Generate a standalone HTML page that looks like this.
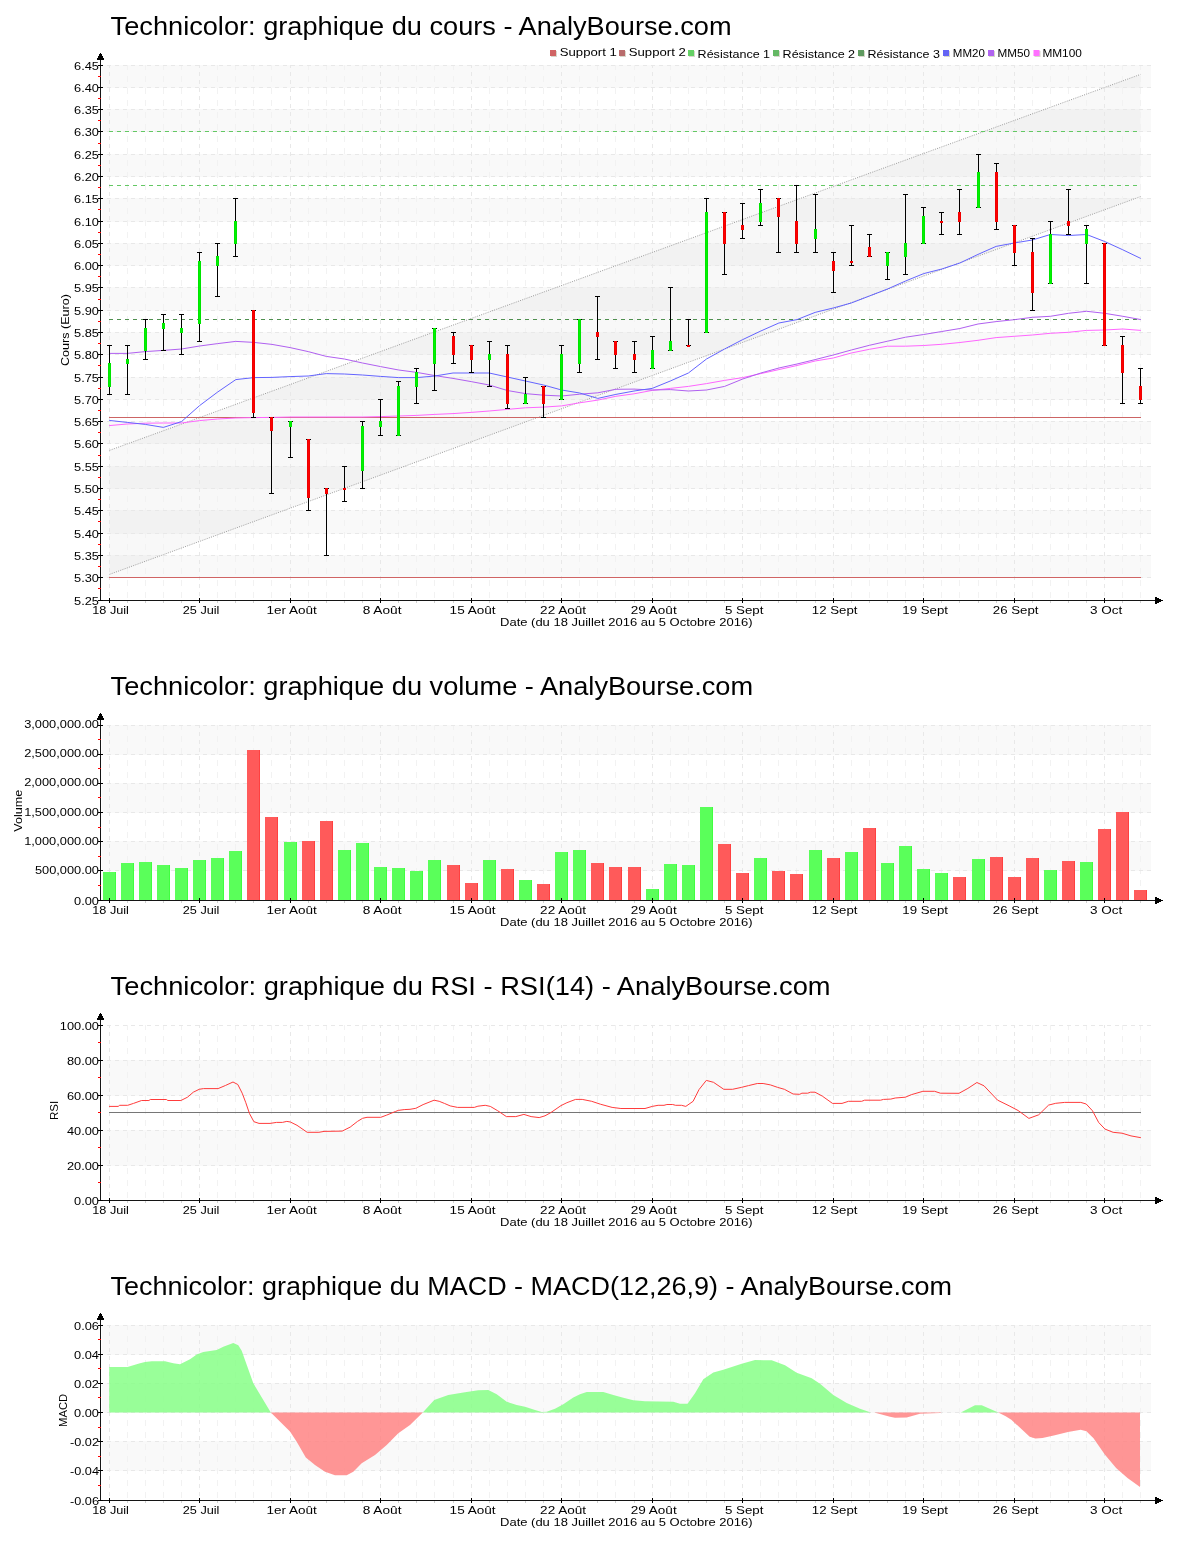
<!DOCTYPE html>
<html><head><meta charset="utf-8"><style>
html,body{margin:0;padding:0;background:#fff;width:1200px;height:1550px;overflow:hidden}
svg{display:block;will-change:transform}
</style></head><body>
<svg width="1200" height="1550" viewBox="0 0 1200 1550" font-family='"Liberation Sans", sans-serif' fill="#000">
<rect width="1200" height="1550" fill="#fff"/>
<text x="110.6" y="34.8" font-size="25.3" text-anchor="start" textLength="621" lengthAdjust="spacingAndGlyphs">Technicolor: graphique du cours - AnalyBourse.com</text>
<rect x="102" y="65" width="1049" height="23" fill="#f9f9f9"/>
<rect x="102" y="109" width="1049" height="23" fill="#f9f9f9"/>
<rect x="102" y="154" width="1049" height="23" fill="#f9f9f9"/>
<rect x="102" y="198" width="1049" height="24" fill="#f9f9f9"/>
<rect x="102" y="243" width="1049" height="23" fill="#f9f9f9"/>
<rect x="102" y="287" width="1049" height="24" fill="#f9f9f9"/>
<rect x="102" y="332" width="1049" height="23" fill="#f9f9f9"/>
<rect x="102" y="377" width="1049" height="23" fill="#f9f9f9"/>
<rect x="102" y="421" width="1049" height="23" fill="#f9f9f9"/>
<rect x="102" y="466" width="1049" height="23" fill="#f9f9f9"/>
<rect x="102" y="510" width="1049" height="24" fill="#f9f9f9"/>
<rect x="102" y="555" width="1049" height="23" fill="#f9f9f9"/>
<path d="M109.5 450.4L1140.5 74.4L1140.5 196.6L109.5 574.4Z" fill="#000" fill-opacity="0.028"/>
<path d="M127.5 65V600M145.5 65V600M163.5 65V600M181.5 65V600M217.5 65V600M235.5 65V600M253.5 65V600M271.5 65V600M308.5 65V600M326.5 65V600M344.5 65V600M362.5 65V600M398.5 65V600M416.5 65V600M434.5 65V600M453.5 65V600M489.5 65V600M507.5 65V600M525.5 65V600M543.5 65V600M579.5 65V600M597.5 65V600M615.5 65V600M634.5 65V600M670.5 65V600M688.5 65V600M706.5 65V600M724.5 65V600M760.5 65V600M778.5 65V600M796.5 65V600M815.5 65V600M851.5 65V600M869.5 65V600M887.5 65V600M905.5 65V600M941.5 65V600M959.5 65V600M978.5 65V600M996.5 65V600M1032.5 65V600M1050.5 65V600M1068.5 65V600M1086.5 65V600M1122.5 65V600M1140.5 65V600" stroke="#f2f2f2" stroke-width="1" stroke-dasharray="6 6" stroke-dashoffset="1" fill="none"/>
<path d="M109.5 65V600M199.5 65V600M290.5 65V600M380.5 65V600M471.5 65V600M561.5 65V600M652.5 65V600M742.5 65V600M833.5 65V600M923.5 65V600M1014.5 65V600M1104.5 65V600" stroke="#e8e8e8" stroke-width="1" stroke-dasharray="4 4" stroke-dashoffset="1" fill="none"/>
<path d="M101 65.5H1151M101 87.5H1151M101 109.5H1151M101 131.5H1151M101 154.5H1151M101 176.5H1151M101 198.5H1151M101 221.5H1151M101 243.5H1151M101 265.5H1151M101 287.5H1151M101 310.5H1151M101 332.5H1151M101 354.5H1151M101 377.5H1151M101 399.5H1151M101 421.5H1151M101 443.5H1151M101 466.5H1151M101 488.5H1151M101 510.5H1151M101 533.5H1151M101 555.5H1151M101 577.5H1151" stroke="#e8e8e8" stroke-width="1" stroke-dasharray="4 4" stroke-dashoffset="2" fill="none"/>
<path d="M109.5 450.4L1140.5 74.4M109.5 574.4L1140.5 196.6" stroke="#9c9c9c" stroke-width="1" stroke-dasharray="1 1.3" fill="none"/>
<path d="M109 417.5H1141" stroke="#cc6464" stroke-width="1" fill="none"/>
<path d="M109 577.5H1141" stroke="#d06464" stroke-width="1" fill="none"/>
<path d="M109 131.5H1141" stroke="#64c864" stroke-width="1" stroke-dasharray="4 4" fill="none"/>
<path d="M109 185.5H1141" stroke="#64c864" stroke-width="1" stroke-dasharray="4 4" fill="none"/>
<path d="M109 319.5H1141" stroke="#509050" stroke-width="1" stroke-dasharray="4 4" fill="none"/>
<path d="M109.1 425.6L127.2 424.0L145.3 423.2L163.4 423.0L181.5 423.0L199.6 420.6L217.7 419.0L235.8 418.0L253.9 417.6L272.0 417.4L290.1 417.0L308.2 417.0L326.3 417.0L344.4 417.0L362.5 417.0L380.6 416.6L398.7 416.0L416.8 415.4L434.9 414.4L453.0 413.6L471.1 412.4L489.2 411.0L507.3 409.4L525.4 407.8L543.5 407.1L561.6 405.9L579.7 402.8L597.8 400.1L615.9 396.3L634.1 393.8L652.2 390.4L670.3 388.4L688.4 386.4L706.5 383.6L724.6 380.4L742.7 377.6L760.8 373.6L778.9 369.6L797.0 365.5L815.1 361.0L833.2 358.0L851.3 353.0L869.4 349.3L887.5 346.2L905.6 346.2L923.7 345.5L941.8 344.3L959.9 342.5L978.0 340.3L996.1 337.6L1014.2 336.3L1032.3 335.0L1050.4 333.3L1068.5 332.3L1086.6 330.4L1104.7 330.0L1122.8 329.0L1140.9 330.4" stroke="#ff66ff" stroke-width="1" fill="none"/>
<path d="M109.1 353.4L127.2 353.4L145.3 351.6L163.4 350.4L181.5 349.0L199.6 346.0L217.7 343.6L235.8 341.4L253.9 342.4L272.0 344.4L290.1 347.6L308.2 351.6L326.3 356.4L344.4 359.0L362.5 363.0L380.6 366.6L398.7 370.0L416.8 372.4L434.9 375.6L453.0 378.4L471.1 381.6L489.2 385.0L507.3 390.5L525.4 393.6L543.5 395.2L561.6 396.0L579.7 394.2L597.8 392.8L615.9 389.3L634.1 389.1L652.2 390.0L670.3 389.6L688.4 391.0L706.5 390.0L724.6 386.4L742.7 379.0L760.8 373.0L778.9 368.0L797.0 364.0L815.1 359.6L833.2 355.0L851.3 350.0L869.4 345.3L887.5 341.2L905.6 337.2L923.7 334.5L941.8 331.5L959.9 328.5L978.0 324.0L996.1 321.6L1014.2 319.7L1032.3 317.3L1050.4 316.3L1068.5 313.3L1086.6 311.3L1104.7 313.3L1122.8 316.3L1140.9 319.6" stroke="#b060f0" stroke-width="1" fill="none"/>
<path d="M109.1 420.4L127.2 422.4L145.3 424.4L163.4 427.4L181.5 421.6L199.6 405.6L217.7 392.0L235.8 379.6L253.9 377.6L272.0 377.4L290.1 376.6L308.2 376.0L326.3 373.6L344.4 374.0L362.5 375.0L380.6 376.4L398.7 377.6L416.8 377.6L434.9 376.0L453.0 373.0L471.1 373.0L489.2 373.0L507.3 377.0L525.4 381.0L543.5 385.0L561.6 390.0L579.7 393.0L597.8 398.4L615.9 394.4L634.1 391.0L652.2 388.4L670.3 381.0L688.4 373.0L706.5 359.0L724.6 349.0L742.7 339.6L760.8 331.0L778.9 323.0L797.0 319.6L815.1 312.4L833.2 308.0L851.3 303.0L869.4 296.0L887.5 289.0L905.6 281.0L923.7 273.6L941.8 269.0L959.9 263.0L978.0 254.4L996.1 246.4L1014.2 243.0L1032.3 240.0L1050.4 234.5L1068.5 235.5L1086.6 234.5L1104.7 241.5L1122.8 249.8L1140.9 258.5" stroke="#6464ff" stroke-width="1" fill="none"/>
<path d="M109.5 345V395M127.5 345V395M145.5 319V360M163.5 314V351M181.5 314V355M199.5 252V342M217.5 243V297M235.5 198V257M253.5 310V418M271.5 417V494M290.5 421V458M308.5 439V511M326.5 488V556M344.5 466V502M362.5 421V489M380.5 399V436M398.5 381V436M416.5 368V404M434.5 328V391M453.5 332V364M471.5 345V373M489.5 341V387M507.5 345V409M525.5 377V404M543.5 386V418M561.5 345V400M579.5 319V373M597.5 296V360M615.5 341V369M634.5 341V373M652.5 336V369M670.5 287V351M688.5 319V346M706.5 198V333M724.5 212V275M742.5 203V239M760.5 189V226M778.5 198V253M796.5 185V253M815.5 194V253M833.5 252V293M851.5 225V266M869.5 234V257M887.5 252V280M905.5 194V275M923.5 207V244M941.5 212V235M959.5 189V235M978.5 154V208M996.5 163V230M1014.5 225V266M1032.5 238V311M1050.5 221V284M1068.5 189V235M1086.5 225V284M1104.5 243V346M1122.5 336V404M1140.5 368V404M107 345.5H112M107 394.5H112M125 345.5H130M125 394.5H130M143 319.5H148M143 359.5H148M161 314.5H166M161 350.5H166M179 314.5H184M179 354.5H184M197 252.5H202M197 341.5H202M215 243.5H220M215 296.5H220M233 198.5H238M233 256.5H238M251 310.5H256M251 417.5H256M269 417.5H274M269 493.5H274M288 421.5H293M288 457.5H293M306 439.5H311M306 510.5H311M324 488.5H329M324 555.5H329M342 466.5H347M342 501.5H347M360 421.5H365M360 488.5H365M378 399.5H383M378 435.5H383M396 381.5H401M396 435.5H401M414 368.5H419M414 403.5H419M432 328.5H437M432 390.5H437M451 332.5H456M451 363.5H456M469 345.5H474M469 372.5H474M487 341.5H492M487 386.5H492M505 345.5H510M505 408.5H510M523 377.5H528M523 403.5H528M541 386.5H546M541 417.5H546M559 345.5H564M559 399.5H564M577 319.5H582M577 372.5H582M595 296.5H600M595 359.5H600M613 341.5H618M613 368.5H618M632 341.5H637M632 372.5H637M650 336.5H655M650 368.5H655M668 287.5H673M668 350.5H673M686 319.5H691M686 345.5H691M704 198.5H709M704 332.5H709M722 212.5H727M722 274.5H727M740 203.5H745M740 238.5H745M758 189.5H763M758 225.5H763M776 198.5H781M776 252.5H781M794 185.5H799M794 252.5H799M813 194.5H818M813 252.5H818M831 252.5H836M831 292.5H836M849 225.5H854M849 265.5H854M867 234.5H872M867 256.5H872M885 252.5H890M885 279.5H890M903 194.5H908M903 274.5H908M921 207.5H926M921 243.5H926M939 212.5H944M939 234.5H944M957 189.5H962M957 234.5H962M976 154.5H981M976 207.5H981M994 163.5H999M994 229.5H999M1012 225.5H1017M1012 265.5H1017M1030 238.5H1035M1030 310.5H1035M1048 221.5H1053M1048 283.5H1053M1066 189.5H1071M1066 234.5H1071M1084 225.5H1089M1084 283.5H1089M1102 243.5H1107M1102 345.5H1107M1120 336.5H1125M1120 403.5H1125M1138 368.5H1143M1138 403.5H1143" stroke="#000" stroke-width="1" fill="none"/>
<path d="M108 363H111V387H108ZM126 359H129V364H126ZM144 328H147V351H144ZM162 323H165V329H162ZM180 328H183V333H180ZM198 261H201V324H198ZM216 256H219V266H216ZM234 221H237V244H234ZM289 421H292V427H289ZM361 426H364V471H361ZM379 421H382V427H379ZM397 386H400V436H397ZM415 372H418V387H415ZM433 328H436V364H433ZM488 354H491V360H488ZM524 394H527V404H524ZM560 354H563V400H560ZM578 319H581V364H578ZM651 350H654V369H651ZM669 341H672V351H669ZM705 212H708V333H705ZM759 203H762V222H759ZM814 229H817V239H814ZM886 252H889V266H886ZM904 243H907V257H904ZM922 216H925V244H922ZM977 172H980V208H977ZM1049 234H1052V284H1049ZM1085 229H1088V244H1085Z" fill="#00e400"/>
<path d="M252 310H255V413H252ZM270 417H273V431H270ZM307 439H310V498H307ZM325 488H328V494H325ZM343 488H346V490H343ZM452 336H455V355H452ZM470 345H473V360H470ZM506 354H509V404H506ZM542 386H545V404H542ZM596 332H599V337H596ZM614 341H617V355H614ZM633 354H636V360H633ZM687 345H690V347H687ZM723 212H726V244H723ZM741 225H744V230H741ZM777 198H780V217H777ZM795 221H798V244H795ZM832 261H835V271H832ZM850 261H853V263H850ZM868 247H871V257H868ZM940 221H943V223H940ZM958 212H961V222H958ZM995 172H998V222H995ZM1013 225H1016V253H1013ZM1031 252H1034V293H1031ZM1067 221H1070V226H1067ZM1103 243H1106V346H1103ZM1121 345H1124V373H1121ZM1139 386H1142V400H1139Z" fill="#ee0000"/>
<path d="M109.5 363V387M127.5 359V364M145.5 328V351M163.5 323V329M181.5 328V333M199.5 261V324M217.5 256V266M235.5 221V244M290.5 421V427M362.5 426V471M380.5 421V427M398.5 386V436M416.5 372V387M434.5 328V364M489.5 354V360M525.5 394V404M561.5 354V400M579.5 319V364M652.5 350V369M670.5 341V351M706.5 212V333M760.5 203V222M815.5 229V239M887.5 252V266M905.5 243V257M923.5 216V244M978.5 172V208M1050.5 234V284M1086.5 229V244" stroke="#00f400" fill="none"/>
<path d="M253.5 310V413M271.5 417V431M308.5 439V498M326.5 488V494M344.5 488V490M453.5 336V355M471.5 345V360M507.5 354V404M543.5 386V404M597.5 332V337M615.5 341V355M634.5 354V360M688.5 345V347M724.5 212V244M742.5 225V230M778.5 198V217M796.5 221V244M833.5 261V271M851.5 261V263M869.5 247V257M941.5 221V223M959.5 212V222M996.5 172V222M1014.5 225V253M1032.5 252V293M1068.5 221V226M1104.5 243V346M1122.5 345V373M1140.5 386V400" stroke="#ff0000" fill="none"/>
<path d="M100.5 60V601M100 600.5H1163" stroke="#141414" stroke-width="1" fill="none"/>
<path d="M100 53h1v1h1v2h1v2h1v2h-7v-2h1v-2h1v-2h1z" fill="#000" shape-rendering="crispEdges"/>
<path d="M1155 597h2v1h2v1h2v1h2v1h-2v1h-2v1h-2v1h-2z" fill="#000" shape-rendering="crispEdges"/>
<path d="M98 65.5H103M98 87.5H103M98 109.5H103M98 131.5H103M98 154.5H103M98 176.5H103M98 198.5H103M98 221.5H103M98 243.5H103M98 265.5H103M98 287.5H103M98 310.5H103M98 332.5H103M98 354.5H103M98 377.5H103M98 399.5H103M98 421.5H103M98 443.5H103M98 466.5H103M98 488.5H103M98 510.5H103M98 533.5H103M98 555.5H103M98 577.5H103M98 600.5H103" stroke="#000" stroke-width="1" fill="none"/>
<path d="M98 76.5H101M98 98.5H101M98 120.5H101M98 143.5H101M98 165.5H101M98 187.5H101M98 209.5H101M98 232.5H101M98 254.5H101M98 276.5H101M98 299.5H101M98 321.5H101M98 343.5H101M98 365.5H101M98 388.5H101M98 410.5H101M98 432.5H101M98 455.5H101M98 477.5H101M98 499.5H101M98 521.5H101M98 544.5H101M98 566.5H101M98 588.5H101" stroke="#f00" stroke-width="1" fill="none"/>
<path d="M109.5 598V603M199.5 598V603M290.5 598V603M380.5 598V603M471.5 598V603M561.5 598V603M652.5 598V603M742.5 598V603M833.5 598V603M923.5 598V603M1014.5 598V603M1104.5 598V603" stroke="#000" stroke-width="1" fill="none"/>
<path d="M127.5 601V603M145.5 601V603M163.5 601V603M181.5 601V603M217.5 601V603M235.5 601V603M253.5 601V603M271.5 601V603M308.5 601V603M326.5 601V603M344.5 601V603M362.5 601V603M398.5 601V603M416.5 601V603M434.5 601V603M453.5 601V603M489.5 601V603M507.5 601V603M525.5 601V603M543.5 601V603M579.5 601V603M597.5 601V603M615.5 601V603M634.5 601V603M670.5 601V603M688.5 601V603M706.5 601V603M724.5 601V603M760.5 601V603M778.5 601V603M796.5 601V603M815.5 601V603M851.5 601V603M869.5 601V603M887.5 601V603M905.5 601V603M941.5 601V603M959.5 601V603M978.5 601V603M996.5 601V603M1032.5 601V603M1050.5 601V603M1068.5 601V603M1086.5 601V603M1122.5 601V603M1140.5 601V603" stroke="#d0d0d0" stroke-width="1" fill="none"/>
<text x="99" y="70" font-size="11.2" text-anchor="end" textLength="24.9" lengthAdjust="spacingAndGlyphs">6.45</text>
<text x="99" y="92" font-size="11.2" text-anchor="end" textLength="24.9" lengthAdjust="spacingAndGlyphs">6.40</text>
<text x="99" y="114" font-size="11.2" text-anchor="end" textLength="24.9" lengthAdjust="spacingAndGlyphs">6.35</text>
<text x="99" y="136" font-size="11.2" text-anchor="end" textLength="24.9" lengthAdjust="spacingAndGlyphs">6.30</text>
<text x="99" y="159" font-size="11.2" text-anchor="end" textLength="24.9" lengthAdjust="spacingAndGlyphs">6.25</text>
<text x="99" y="181" font-size="11.2" text-anchor="end" textLength="24.9" lengthAdjust="spacingAndGlyphs">6.20</text>
<text x="99" y="203" font-size="11.2" text-anchor="end" textLength="24.9" lengthAdjust="spacingAndGlyphs">6.15</text>
<text x="99" y="226" font-size="11.2" text-anchor="end" textLength="24.9" lengthAdjust="spacingAndGlyphs">6.10</text>
<text x="99" y="248" font-size="11.2" text-anchor="end" textLength="24.9" lengthAdjust="spacingAndGlyphs">6.05</text>
<text x="99" y="270" font-size="11.2" text-anchor="end" textLength="24.9" lengthAdjust="spacingAndGlyphs">6.00</text>
<text x="99" y="292" font-size="11.2" text-anchor="end" textLength="24.9" lengthAdjust="spacingAndGlyphs">5.95</text>
<text x="99" y="315" font-size="11.2" text-anchor="end" textLength="24.9" lengthAdjust="spacingAndGlyphs">5.90</text>
<text x="99" y="337" font-size="11.2" text-anchor="end" textLength="24.9" lengthAdjust="spacingAndGlyphs">5.85</text>
<text x="99" y="359" font-size="11.2" text-anchor="end" textLength="24.9" lengthAdjust="spacingAndGlyphs">5.80</text>
<text x="99" y="382" font-size="11.2" text-anchor="end" textLength="24.9" lengthAdjust="spacingAndGlyphs">5.75</text>
<text x="99" y="404" font-size="11.2" text-anchor="end" textLength="24.9" lengthAdjust="spacingAndGlyphs">5.70</text>
<text x="99" y="426" font-size="11.2" text-anchor="end" textLength="24.9" lengthAdjust="spacingAndGlyphs">5.65</text>
<text x="99" y="448" font-size="11.2" text-anchor="end" textLength="24.9" lengthAdjust="spacingAndGlyphs">5.60</text>
<text x="99" y="471" font-size="11.2" text-anchor="end" textLength="24.9" lengthAdjust="spacingAndGlyphs">5.55</text>
<text x="99" y="493" font-size="11.2" text-anchor="end" textLength="24.9" lengthAdjust="spacingAndGlyphs">5.50</text>
<text x="99" y="515" font-size="11.2" text-anchor="end" textLength="24.9" lengthAdjust="spacingAndGlyphs">5.45</text>
<text x="99" y="538" font-size="11.2" text-anchor="end" textLength="24.9" lengthAdjust="spacingAndGlyphs">5.40</text>
<text x="99" y="560" font-size="11.2" text-anchor="end" textLength="24.9" lengthAdjust="spacingAndGlyphs">5.35</text>
<text x="99" y="582" font-size="11.2" text-anchor="end" textLength="24.9" lengthAdjust="spacingAndGlyphs">5.30</text>
<text x="99" y="605" font-size="11.2" text-anchor="end" textLength="24.9" lengthAdjust="spacingAndGlyphs">5.25</text>
<text x="110.6" y="614" font-size="11.2" text-anchor="middle" textLength="36.7" lengthAdjust="spacingAndGlyphs">18 Juil</text>
<text x="201.1" y="614" font-size="11.2" text-anchor="middle" textLength="36.7" lengthAdjust="spacingAndGlyphs">25 Juil</text>
<text x="291.6" y="614" font-size="11.2" text-anchor="middle" textLength="50.4" lengthAdjust="spacingAndGlyphs">1er Août</text>
<text x="382.1" y="614" font-size="11.2" text-anchor="middle" textLength="38.8" lengthAdjust="spacingAndGlyphs">8 Août</text>
<text x="472.6" y="614" font-size="11.2" text-anchor="middle" textLength="46.0" lengthAdjust="spacingAndGlyphs">15 Août</text>
<text x="563.1" y="614" font-size="11.2" text-anchor="middle" textLength="46.0" lengthAdjust="spacingAndGlyphs">22 Août</text>
<text x="653.7" y="614" font-size="11.2" text-anchor="middle" textLength="46.0" lengthAdjust="spacingAndGlyphs">29 Août</text>
<text x="744.2" y="614" font-size="11.2" text-anchor="middle" textLength="38.5" lengthAdjust="spacingAndGlyphs">5 Sept</text>
<text x="834.7" y="614" font-size="11.2" text-anchor="middle" textLength="45.7" lengthAdjust="spacingAndGlyphs">12 Sept</text>
<text x="925.2" y="614" font-size="11.2" text-anchor="middle" textLength="45.7" lengthAdjust="spacingAndGlyphs">19 Sept</text>
<text x="1015.7" y="614" font-size="11.2" text-anchor="middle" textLength="45.7" lengthAdjust="spacingAndGlyphs">26 Sept</text>
<text x="1106.2" y="614" font-size="11.2" text-anchor="middle" textLength="32.3" lengthAdjust="spacingAndGlyphs">3 Oct</text>
<text x="626.3" y="626" font-size="11.2" text-anchor="middle" textLength="252.5" lengthAdjust="spacingAndGlyphs">Date (du 18 Juillet 2016 au 5 Octobre 2016)</text>
<text x="0" y="0" font-size="11.2" text-anchor="middle" textLength="72" lengthAdjust="spacingAndGlyphs" transform="translate(69.4 330) rotate(-90)">Cours (Euro)</text>
<rect x="551" y="51" width="6" height="6" fill="#d8d8cc"/>
<rect x="550" y="50" width="6" height="6" fill="#d06464"/>
<text x="559.8" y="56" font-size="11" text-anchor="start" textLength="57" lengthAdjust="spacingAndGlyphs">Support 1</text>
<rect x="620" y="51" width="6" height="6" fill="#d8d8cc"/>
<rect x="619" y="50" width="6" height="6" fill="#b86c6c"/>
<text x="628.8" y="56" font-size="11" text-anchor="start" textLength="57" lengthAdjust="spacingAndGlyphs">Support 2</text>
<rect x="689" y="51" width="6" height="6" fill="#d8d8cc"/>
<rect x="688" y="50" width="6" height="6" fill="#64d064"/>
<text x="697.6" y="58" font-size="11" text-anchor="start" textLength="72.5" lengthAdjust="spacingAndGlyphs">Résistance 1</text>
<rect x="774" y="51" width="6" height="6" fill="#d8d8cc"/>
<rect x="773" y="50" width="6" height="6" fill="#64b864"/>
<text x="782.6" y="58" font-size="11" text-anchor="start" textLength="72.5" lengthAdjust="spacingAndGlyphs">Résistance 2</text>
<rect x="859" y="51" width="6" height="6" fill="#d8d8cc"/>
<rect x="858" y="50" width="6" height="6" fill="#5f9a5f"/>
<text x="867.6" y="58" font-size="11" text-anchor="start" textLength="72.3" lengthAdjust="spacingAndGlyphs">Résistance 3</text>
<rect x="944" y="51" width="6" height="6" fill="#d8d8cc"/>
<rect x="943" y="50" width="6" height="6" fill="#6464f5"/>
<text x="952.8" y="57" font-size="11" text-anchor="start" textLength="32" lengthAdjust="spacingAndGlyphs">MM20</text>
<rect x="989" y="51" width="6" height="6" fill="#d8d8cc"/>
<rect x="988" y="50" width="6" height="6" fill="#b064f0"/>
<text x="997.4" y="57" font-size="11" text-anchor="start" textLength="32.5" lengthAdjust="spacingAndGlyphs">MM50</text>
<rect x="1034.5" y="51" width="6" height="6" fill="#d8d8cc"/>
<rect x="1033.5" y="50" width="6" height="6" fill="#ff70ff"/>
<text x="1042.4" y="57" font-size="11" text-anchor="start" textLength="39.5" lengthAdjust="spacingAndGlyphs">MM100</text>
<text x="110.6" y="694.8" font-size="25.3" text-anchor="start" textLength="642.5" lengthAdjust="spacingAndGlyphs">Technicolor: graphique du volume - AnalyBourse.com</text>
<rect x="102" y="725" width="1049" height="30" fill="#f9f9f9"/>
<rect x="102" y="783" width="1049" height="30" fill="#f9f9f9"/>
<rect x="102" y="841" width="1049" height="30" fill="#f9f9f9"/>
<path d="M127.5 725V900M145.5 725V900M163.5 725V900M181.5 725V900M217.5 725V900M235.5 725V900M253.5 725V900M271.5 725V900M308.5 725V900M326.5 725V900M344.5 725V900M362.5 725V900M398.5 725V900M416.5 725V900M434.5 725V900M453.5 725V900M489.5 725V900M507.5 725V900M525.5 725V900M543.5 725V900M579.5 725V900M597.5 725V900M615.5 725V900M634.5 725V900M670.5 725V900M688.5 725V900M706.5 725V900M724.5 725V900M760.5 725V900M778.5 725V900M796.5 725V900M815.5 725V900M851.5 725V900M869.5 725V900M887.5 725V900M905.5 725V900M941.5 725V900M959.5 725V900M978.5 725V900M996.5 725V900M1032.5 725V900M1050.5 725V900M1068.5 725V900M1086.5 725V900M1122.5 725V900M1140.5 725V900" stroke="#f2f2f2" stroke-width="1" stroke-dasharray="6 6" stroke-dashoffset="1" fill="none"/>
<path d="M109.5 725V900M199.5 725V900M290.5 725V900M380.5 725V900M471.5 725V900M561.5 725V900M652.5 725V900M742.5 725V900M833.5 725V900M923.5 725V900M1014.5 725V900M1104.5 725V900" stroke="#e8e8e8" stroke-width="1" stroke-dasharray="4 4" stroke-dashoffset="1" fill="none"/>
<path d="M101 725.5H1151M101 754.5H1151M101 783.5H1151M101 812.5H1151M101 841.5H1151M101 870.5H1151" stroke="#e8e8e8" stroke-width="1" stroke-dasharray="4 4" stroke-dashoffset="2" fill="none"/>
<path d="M103 872H116V900H103ZM121 863H134V900H121ZM139 862H152V900H139ZM157 865H170V900H157ZM175 868H188V900H175ZM193 860H206V900H193ZM211 858H224V900H211ZM229 851H242V900H229ZM284 842H297V900H284ZM338 850H351V900H338ZM356 843H369V900H356ZM374 867H387V900H374ZM392 868H405V900H392ZM410 871H423V900H410ZM428 860H441V900H428ZM483 860H496V900H483ZM519 880H532V900H519ZM555 852H568V900H555ZM573 850H586V900H573ZM646 889H659V900H646ZM664 864H677V900H664ZM682 865H695V900H682ZM700 807H713V900H700ZM754 858H767V900H754ZM809 850H822V900H809ZM845 852H858V900H845ZM881 863H894V900H881ZM899 846H912V900H899ZM917 869H930V900H917ZM935 873H948V900H935ZM972 859H985V900H972ZM1044 870H1057V900H1044ZM1080 862H1093V900H1080Z" fill="#5aff5a"/>
<path d="M247 750H260V900H247ZM265 817H278V900H265ZM302 841H315V900H302ZM320 821H333V900H320ZM447 865H460V900H447ZM465 883H478V900H465ZM501 869H514V900H501ZM537 884H550V900H537ZM591 863H604V900H591ZM609 867H622V900H609ZM628 867H641V900H628ZM718 844H731V900H718ZM736 873H749V900H736ZM772 871H785V900H772ZM790 874H803V900H790ZM827 858H840V900H827ZM863 828H876V900H863ZM953 877H966V900H953ZM990 857H1003V900H990ZM1008 877H1021V900H1008ZM1026 858H1039V900H1026ZM1062 861H1075V900H1062ZM1098 829H1111V900H1098ZM1116 812H1129V900H1116ZM1134 890H1147V900H1134Z" fill="#ff5a5a"/>
<path d="M115.5 872V900M133.5 863V900M151.5 862V900M169.5 865V900M187.5 868V900M205.5 860V900M223.5 858V900M241.5 851V900M296.5 842V900M350.5 850V900M368.5 843V900M386.5 867V900M404.5 868V900M422.5 871V900M440.5 860V900M495.5 860V900M531.5 880V900M567.5 852V900M585.5 850V900M658.5 889V900M676.5 864V900M694.5 865V900M712.5 807V900M766.5 858V900M821.5 850V900M857.5 852V900M893.5 863V900M911.5 846V900M929.5 869V900M947.5 873V900M984.5 859V900M1056.5 870V900M1092.5 862V900" stroke="#40ff40" fill="none"/>
<path d="M259.5 750V900M277.5 817V900M314.5 841V900M332.5 821V900M459.5 865V900M477.5 883V900M513.5 869V900M549.5 884V900M603.5 863V900M621.5 867V900M640.5 867V900M730.5 844V900M748.5 873V900M784.5 871V900M802.5 874V900M839.5 858V900M875.5 828V900M965.5 877V900M1002.5 857V900M1020.5 877V900M1038.5 858V900M1074.5 861V900M1110.5 829V900M1128.5 812V900M1146.5 890V900" stroke="#ff4040" fill="none"/>
<path d="M100.5 720V901M100 900.5H1163" stroke="#141414" stroke-width="1" fill="none"/>
<path d="M100 713h1v1h1v2h1v2h1v2h-7v-2h1v-2h1v-2h1z" fill="#000" shape-rendering="crispEdges"/>
<path d="M1155 897h2v1h2v1h2v1h2v1h-2v1h-2v1h-2v1h-2z" fill="#000" shape-rendering="crispEdges"/>
<path d="M98 725.5H103M98 754.5H103M98 783.5H103M98 812.5H103M98 841.5H103M98 870.5H103M98 900.5H103" stroke="#000" stroke-width="1" fill="none"/>
<path d="M98 739.5H101M98 768.5H101M98 797.5H101M98 827.5H101M98 856.5H101M98 885.5H101" stroke="#f00" stroke-width="1" fill="none"/>
<path d="M109.5 898V903M199.5 898V903M290.5 898V903M380.5 898V903M471.5 898V903M561.5 898V903M652.5 898V903M742.5 898V903M833.5 898V903M923.5 898V903M1014.5 898V903M1104.5 898V903" stroke="#000" stroke-width="1" fill="none"/>
<path d="M127.5 901V903M145.5 901V903M163.5 901V903M181.5 901V903M217.5 901V903M235.5 901V903M253.5 901V903M271.5 901V903M308.5 901V903M326.5 901V903M344.5 901V903M362.5 901V903M398.5 901V903M416.5 901V903M434.5 901V903M453.5 901V903M489.5 901V903M507.5 901V903M525.5 901V903M543.5 901V903M579.5 901V903M597.5 901V903M615.5 901V903M634.5 901V903M670.5 901V903M688.5 901V903M706.5 901V903M724.5 901V903M760.5 901V903M778.5 901V903M796.5 901V903M815.5 901V903M851.5 901V903M869.5 901V903M887.5 901V903M905.5 901V903M941.5 901V903M959.5 901V903M978.5 901V903M996.5 901V903M1032.5 901V903M1050.5 901V903M1068.5 901V903M1086.5 901V903M1122.5 901V903M1140.5 901V903" stroke="#d0d0d0" stroke-width="1" fill="none"/>
<text x="99" y="728.0" font-size="11.2" text-anchor="end" textLength="74.8" lengthAdjust="spacingAndGlyphs">3,000,000.00</text>
<text x="99" y="757.2" font-size="11.2" text-anchor="end" textLength="74.8" lengthAdjust="spacingAndGlyphs">2,500,000.00</text>
<text x="99" y="786.3" font-size="11.2" text-anchor="end" textLength="74.8" lengthAdjust="spacingAndGlyphs">2,000,000.00</text>
<text x="99" y="815.5" font-size="11.2" text-anchor="end" textLength="74.8" lengthAdjust="spacingAndGlyphs">1,500,000.00</text>
<text x="99" y="844.7" font-size="11.2" text-anchor="end" textLength="74.8" lengthAdjust="spacingAndGlyphs">1,000,000.00</text>
<text x="99" y="873.8" font-size="11.2" text-anchor="end" textLength="64.1" lengthAdjust="spacingAndGlyphs">500,000.00</text>
<text x="99" y="905" font-size="11.2" text-anchor="end" textLength="24.9" lengthAdjust="spacingAndGlyphs">0.00</text>
<text x="110.6" y="914" font-size="11.2" text-anchor="middle" textLength="36.7" lengthAdjust="spacingAndGlyphs">18 Juil</text>
<text x="201.1" y="914" font-size="11.2" text-anchor="middle" textLength="36.7" lengthAdjust="spacingAndGlyphs">25 Juil</text>
<text x="291.6" y="914" font-size="11.2" text-anchor="middle" textLength="50.4" lengthAdjust="spacingAndGlyphs">1er Août</text>
<text x="382.1" y="914" font-size="11.2" text-anchor="middle" textLength="38.8" lengthAdjust="spacingAndGlyphs">8 Août</text>
<text x="472.6" y="914" font-size="11.2" text-anchor="middle" textLength="46.0" lengthAdjust="spacingAndGlyphs">15 Août</text>
<text x="563.1" y="914" font-size="11.2" text-anchor="middle" textLength="46.0" lengthAdjust="spacingAndGlyphs">22 Août</text>
<text x="653.7" y="914" font-size="11.2" text-anchor="middle" textLength="46.0" lengthAdjust="spacingAndGlyphs">29 Août</text>
<text x="744.2" y="914" font-size="11.2" text-anchor="middle" textLength="38.5" lengthAdjust="spacingAndGlyphs">5 Sept</text>
<text x="834.7" y="914" font-size="11.2" text-anchor="middle" textLength="45.7" lengthAdjust="spacingAndGlyphs">12 Sept</text>
<text x="925.2" y="914" font-size="11.2" text-anchor="middle" textLength="45.7" lengthAdjust="spacingAndGlyphs">19 Sept</text>
<text x="1015.7" y="914" font-size="11.2" text-anchor="middle" textLength="45.7" lengthAdjust="spacingAndGlyphs">26 Sept</text>
<text x="1106.2" y="914" font-size="11.2" text-anchor="middle" textLength="32.3" lengthAdjust="spacingAndGlyphs">3 Oct</text>
<text x="626.3" y="926" font-size="11.2" text-anchor="middle" textLength="252.5" lengthAdjust="spacingAndGlyphs">Date (du 18 Juillet 2016 au 5 Octobre 2016)</text>
<text x="0" y="0" font-size="11.2" text-anchor="middle" textLength="42" lengthAdjust="spacingAndGlyphs" transform="translate(22 810.8) rotate(-90)">Volume</text>
<text x="110.6" y="994.8" font-size="25.3" text-anchor="start" textLength="720" lengthAdjust="spacingAndGlyphs">Technicolor: graphique du RSI - RSI(14) - AnalyBourse.com</text>
<rect x="102" y="1060" width="1049" height="36" fill="#f9f9f9"/>
<rect x="102" y="1130" width="1049" height="36" fill="#f9f9f9"/>
<path d="M127.5 1025V1200M145.5 1025V1200M163.5 1025V1200M181.5 1025V1200M217.5 1025V1200M235.5 1025V1200M253.5 1025V1200M271.5 1025V1200M308.5 1025V1200M326.5 1025V1200M344.5 1025V1200M362.5 1025V1200M398.5 1025V1200M416.5 1025V1200M434.5 1025V1200M453.5 1025V1200M489.5 1025V1200M507.5 1025V1200M525.5 1025V1200M543.5 1025V1200M579.5 1025V1200M597.5 1025V1200M615.5 1025V1200M634.5 1025V1200M670.5 1025V1200M688.5 1025V1200M706.5 1025V1200M724.5 1025V1200M760.5 1025V1200M778.5 1025V1200M796.5 1025V1200M815.5 1025V1200M851.5 1025V1200M869.5 1025V1200M887.5 1025V1200M905.5 1025V1200M941.5 1025V1200M959.5 1025V1200M978.5 1025V1200M996.5 1025V1200M1032.5 1025V1200M1050.5 1025V1200M1068.5 1025V1200M1086.5 1025V1200M1122.5 1025V1200M1140.5 1025V1200" stroke="#f2f2f2" stroke-width="1" stroke-dasharray="6 6" stroke-dashoffset="1" fill="none"/>
<path d="M109.5 1025V1200M199.5 1025V1200M290.5 1025V1200M380.5 1025V1200M471.5 1025V1200M561.5 1025V1200M652.5 1025V1200M742.5 1025V1200M833.5 1025V1200M923.5 1025V1200M1014.5 1025V1200M1104.5 1025V1200" stroke="#e8e8e8" stroke-width="1" stroke-dasharray="4 4" stroke-dashoffset="1" fill="none"/>
<path d="M101 1025.5H1151M101 1060.5H1151M101 1095.5H1151M101 1130.5H1151M101 1165.5H1151" stroke="#e8e8e8" stroke-width="1" stroke-dasharray="4 4" stroke-dashoffset="2" fill="none"/>
<path d="M109 1112.5H1141" stroke="#767676" stroke-width="1" fill="none"/>
<path d="M109.0 1106.4L118.2 1106.4L119.7 1105.3L127.7 1105.3L133.5 1103.4L141.6 1100.5L148.9 1100.5L150.3 1099.5L166.4 1099.5L167.8 1100.5L180.9 1100.5L187.5 1097.2L193.3 1092.2L199.2 1089.3L203.5 1088.6L218.1 1088.6L225.4 1085.5L233 1082L237.8 1084.5L242.2 1093.2L245.8 1102.7L249.5 1113.6L253.9 1121.7L259 1123.4L270 1123.4L276.6 1122.4L282.4 1122.4L286.8 1121.4L290.4 1122L297 1125.3L307.2 1132.3L318.9 1132.3L324 1131.4L342.2 1131.1L350.2 1127.1L357.5 1121.4L362.6 1118.3L367 1117.3L380.8 1117.3L386.7 1115.1L395.4 1111.5L398.3 1110.4L404.2 1109.6L410 1109.3L415.8 1108.3L423.1 1104.6L434.1 1100.2L439.2 1101.3L444.4 1103.4L450.2 1105.9L457.5 1107.4L474.3 1107.4L477.9 1106.2L485.2 1105.3L490.3 1106.4L497.6 1110.7L506.4 1116.6L515.8 1116.6L523.9 1114.4L531.1 1116.6L539.2 1117.6L545 1115.8L550.8 1112.6L561 1105.6L566.9 1102.7L575.6 1099.4L582.2 1099.4L591.7 1101.3L600.4 1104.2L612.1 1107.4L620.9 1108.5L645 1108.5L652.3 1106.4L658.1 1105.3L664 1105.3L666.9 1104.5L672.7 1104.5L675.6 1105.3L681.5 1105.3L685.8 1106.4L693.1 1101.3L699 1089.6L706.3 1080.4L713.5 1082.3L723.8 1089.3L732.5 1089.3L741.3 1087.4L748.5 1085.6L757.3 1083.5L763.1 1083.5L770.4 1084.9L777.7 1087.4L784.4 1089.3L793.1 1094L799.7 1094.3L801.9 1093.2L807.7 1093.2L810.6 1092.2L815 1092.2L822.3 1096.1L832.5 1103.4L842 1103.4L848.5 1101.3L861.7 1101.3L864.6 1100.2L880.6 1100.2L883.5 1099.4L890.8 1099.1L895.2 1098L905.4 1097.2L911.3 1094.7L922.9 1091.3L934.6 1091.3L940.4 1093.2L959 1093.3L967.9 1088.4L976.9 1082.5L984 1085.8L997.5 1100.1L1009.1 1105.8L1018.1 1110.5L1028.9 1118.4L1038.7 1114.8L1048.6 1105.1L1055.7 1103.3L1064.7 1102.4L1080.8 1102.4L1086.2 1104L1092.5 1110.8L1098.7 1122.5L1105 1129.1L1113.1 1132.3L1122 1133.2L1131 1135.9L1140.9 1137.7" stroke="#ff3c3c" stroke-width="1" fill="none" stroke-linejoin="round"/>
<path d="M100.5 1020V1201M100 1200.5H1163" stroke="#141414" stroke-width="1" fill="none"/>
<path d="M100 1013h1v1h1v2h1v2h1v2h-7v-2h1v-2h1v-2h1z" fill="#000" shape-rendering="crispEdges"/>
<path d="M1155 1197h2v1h2v1h2v1h2v1h-2v1h-2v1h-2v1h-2z" fill="#000" shape-rendering="crispEdges"/>
<path d="M98 1025.5H103M98 1060.5H103M98 1095.5H103M98 1130.5H103M98 1165.5H103M98 1200.5H103" stroke="#000" stroke-width="1" fill="none"/>
<path d="M98 1042.5H101M98 1077.5H101M98 1112.5H101M98 1147.5H101M98 1182.5H101" stroke="#f00" stroke-width="1" fill="none"/>
<path d="M109.5 1198V1203M199.5 1198V1203M290.5 1198V1203M380.5 1198V1203M471.5 1198V1203M561.5 1198V1203M652.5 1198V1203M742.5 1198V1203M833.5 1198V1203M923.5 1198V1203M1014.5 1198V1203M1104.5 1198V1203" stroke="#000" stroke-width="1" fill="none"/>
<path d="M127.5 1201V1203M145.5 1201V1203M163.5 1201V1203M181.5 1201V1203M217.5 1201V1203M235.5 1201V1203M253.5 1201V1203M271.5 1201V1203M308.5 1201V1203M326.5 1201V1203M344.5 1201V1203M362.5 1201V1203M398.5 1201V1203M416.5 1201V1203M434.5 1201V1203M453.5 1201V1203M489.5 1201V1203M507.5 1201V1203M525.5 1201V1203M543.5 1201V1203M579.5 1201V1203M597.5 1201V1203M615.5 1201V1203M634.5 1201V1203M670.5 1201V1203M688.5 1201V1203M706.5 1201V1203M724.5 1201V1203M760.5 1201V1203M778.5 1201V1203M796.5 1201V1203M815.5 1201V1203M851.5 1201V1203M869.5 1201V1203M887.5 1201V1203M905.5 1201V1203M941.5 1201V1203M959.5 1201V1203M978.5 1201V1203M996.5 1201V1203M1032.5 1201V1203M1050.5 1201V1203M1068.5 1201V1203M1086.5 1201V1203M1122.5 1201V1203M1140.5 1201V1203" stroke="#d0d0d0" stroke-width="1" fill="none"/>
<text x="99" y="1030" font-size="11.2" text-anchor="end" textLength="39.2" lengthAdjust="spacingAndGlyphs">100.00</text>
<text x="99" y="1065" font-size="11.2" text-anchor="end" textLength="32.1" lengthAdjust="spacingAndGlyphs">80.00</text>
<text x="99" y="1100" font-size="11.2" text-anchor="end" textLength="32.1" lengthAdjust="spacingAndGlyphs">60.00</text>
<text x="99" y="1135" font-size="11.2" text-anchor="end" textLength="32.1" lengthAdjust="spacingAndGlyphs">40.00</text>
<text x="99" y="1170" font-size="11.2" text-anchor="end" textLength="32.1" lengthAdjust="spacingAndGlyphs">20.00</text>
<text x="99" y="1205" font-size="11.2" text-anchor="end" textLength="24.9" lengthAdjust="spacingAndGlyphs">0.00</text>
<text x="110.6" y="1214" font-size="11.2" text-anchor="middle" textLength="36.7" lengthAdjust="spacingAndGlyphs">18 Juil</text>
<text x="201.1" y="1214" font-size="11.2" text-anchor="middle" textLength="36.7" lengthAdjust="spacingAndGlyphs">25 Juil</text>
<text x="291.6" y="1214" font-size="11.2" text-anchor="middle" textLength="50.4" lengthAdjust="spacingAndGlyphs">1er Août</text>
<text x="382.1" y="1214" font-size="11.2" text-anchor="middle" textLength="38.8" lengthAdjust="spacingAndGlyphs">8 Août</text>
<text x="472.6" y="1214" font-size="11.2" text-anchor="middle" textLength="46.0" lengthAdjust="spacingAndGlyphs">15 Août</text>
<text x="563.1" y="1214" font-size="11.2" text-anchor="middle" textLength="46.0" lengthAdjust="spacingAndGlyphs">22 Août</text>
<text x="653.7" y="1214" font-size="11.2" text-anchor="middle" textLength="46.0" lengthAdjust="spacingAndGlyphs">29 Août</text>
<text x="744.2" y="1214" font-size="11.2" text-anchor="middle" textLength="38.5" lengthAdjust="spacingAndGlyphs">5 Sept</text>
<text x="834.7" y="1214" font-size="11.2" text-anchor="middle" textLength="45.7" lengthAdjust="spacingAndGlyphs">12 Sept</text>
<text x="925.2" y="1214" font-size="11.2" text-anchor="middle" textLength="45.7" lengthAdjust="spacingAndGlyphs">19 Sept</text>
<text x="1015.7" y="1214" font-size="11.2" text-anchor="middle" textLength="45.7" lengthAdjust="spacingAndGlyphs">26 Sept</text>
<text x="1106.2" y="1214" font-size="11.2" text-anchor="middle" textLength="32.3" lengthAdjust="spacingAndGlyphs">3 Oct</text>
<text x="626.3" y="1226" font-size="11.2" text-anchor="middle" textLength="252.5" lengthAdjust="spacingAndGlyphs">Date (du 18 Juillet 2016 au 5 Octobre 2016)</text>
<text x="0" y="0" font-size="11.2" text-anchor="middle" textLength="19.2" lengthAdjust="spacingAndGlyphs" transform="translate(58.2 1110.4) rotate(-90)">RSI</text>
<text x="110.6" y="1294.8" font-size="25.3" text-anchor="start" textLength="841.5" lengthAdjust="spacingAndGlyphs">Technicolor: graphique du MACD - MACD(12,26,9) - AnalyBourse.com</text>
<rect x="102" y="1325" width="1049" height="30" fill="#f9f9f9"/>
<rect x="102" y="1383" width="1049" height="30" fill="#f9f9f9"/>
<rect x="102" y="1441" width="1049" height="30" fill="#f9f9f9"/>
<path d="M127.5 1325V1500M145.5 1325V1500M163.5 1325V1500M181.5 1325V1500M217.5 1325V1500M235.5 1325V1500M253.5 1325V1500M271.5 1325V1500M308.5 1325V1500M326.5 1325V1500M344.5 1325V1500M362.5 1325V1500M398.5 1325V1500M416.5 1325V1500M434.5 1325V1500M453.5 1325V1500M489.5 1325V1500M507.5 1325V1500M525.5 1325V1500M543.5 1325V1500M579.5 1325V1500M597.5 1325V1500M615.5 1325V1500M634.5 1325V1500M670.5 1325V1500M688.5 1325V1500M706.5 1325V1500M724.5 1325V1500M760.5 1325V1500M778.5 1325V1500M796.5 1325V1500M815.5 1325V1500M851.5 1325V1500M869.5 1325V1500M887.5 1325V1500M905.5 1325V1500M941.5 1325V1500M959.5 1325V1500M978.5 1325V1500M996.5 1325V1500M1032.5 1325V1500M1050.5 1325V1500M1068.5 1325V1500M1086.5 1325V1500M1122.5 1325V1500M1140.5 1325V1500" stroke="#f2f2f2" stroke-width="1" stroke-dasharray="6 6" stroke-dashoffset="1" fill="none"/>
<path d="M109.5 1325V1500M199.5 1325V1500M290.5 1325V1500M380.5 1325V1500M471.5 1325V1500M561.5 1325V1500M652.5 1325V1500M742.5 1325V1500M833.5 1325V1500M923.5 1325V1500M1014.5 1325V1500M1104.5 1325V1500" stroke="#e8e8e8" stroke-width="1" stroke-dasharray="4 4" stroke-dashoffset="1" fill="none"/>
<path d="M101 1325.5H1151M101 1354.5H1151M101 1383.5H1151M101 1412.5H1151M101 1441.5H1151M101 1470.5H1151" stroke="#e8e8e8" stroke-width="1" stroke-dasharray="4 4" stroke-dashoffset="2" fill="none"/>
<path d="M109.2 1412.5L109.2 1367L127.5 1367L133.3 1365.3L140 1363.3L145 1362L151.7 1361.2L165 1361.2L173.3 1363.3L180 1364.2L190 1359.2L196.7 1354.5L203.3 1352L216.7 1350L223.3 1346.7L233.3 1343L238.3 1345.3L241.7 1350.8L253.3 1383.3L270.8 1412.5Z" fill="#80ff80" fill-opacity="0.8"/>
<path d="M270.8 1412.5L290 1431.5L296.7 1441.7L305.8 1457.5L315 1465L325 1471.7L335 1475.3L346.7 1475.3L353.3 1471.7L361.7 1463.3L375 1455L386.7 1445L398.3 1433.3L410 1425L422.8 1412.5Z" fill="#ff7c7c" fill-opacity="0.8"/>
<path d="M422.8 1412.5L434.2 1400L448.3 1395L465 1392.2L478.3 1390.3L488.3 1390L496.7 1394.2L506.7 1401.7L516.7 1405L525 1406.7L535 1410L541.7 1412L546.7 1411.7L555 1408.7L563.3 1404.2L573.3 1397.5L580 1394.2L586.7 1392L603.3 1392L613.3 1395L623.3 1397.8L633.3 1400.3L645 1401.3L673.3 1401.7L680 1403.8L687.5 1403.8L695 1393.3L703.3 1379.2L713.3 1372.5L723.3 1369.7L741.7 1363.8L755 1360L771.7 1360.3L785 1365.3L796.7 1372.8L811.7 1378.3L820 1383.7L833.3 1395L846.7 1403L860 1408.8L870.8 1412.5Z" fill="#80ff80" fill-opacity="0.8"/>
<path d="M870.8 1412.5L874.2 1412.5L890 1416.7L895 1417.8L906.7 1417.5L920 1413.8L940 1413L941.7 1412.5Z" fill="#ff7c7c" fill-opacity="0.8"/>
<path d="M941.7 1412.5L960.8 1412.5L975 1405.3L981.7 1405.3L998.3 1412.5Z" fill="#80ff80" fill-opacity="0.8"/>
<path d="M998.3 1412.5L1005.7 1416.3L1011.3 1419.8L1019.8 1427.6L1029.7 1436.8L1035.4 1438.5L1042.5 1438L1053.8 1435.4L1068 1431.9L1080.7 1429.7L1086.4 1431.2L1093.5 1438.2L1104.8 1454.5L1116.1 1468L1127.5 1477.9L1140 1487L1140 1412.5Z" fill="#ff7c7c" fill-opacity="0.8"/>
<path d="M100.5 1320V1501M100 1500.5H1163" stroke="#141414" stroke-width="1" fill="none"/>
<path d="M100 1313h1v1h1v2h1v2h1v2h-7v-2h1v-2h1v-2h1z" fill="#000" shape-rendering="crispEdges"/>
<path d="M1155 1497h2v1h2v1h2v1h2v1h-2v1h-2v1h-2v1h-2z" fill="#000" shape-rendering="crispEdges"/>
<path d="M98 1325.5H103M98 1354.5H103M98 1383.5H103M98 1412.5H103M98 1441.5H103M98 1470.5H103M98 1500.5H103" stroke="#000" stroke-width="1" fill="none"/>
<path d="M98 1339.5H101M98 1368.5H101M98 1397.5H101M98 1427.5H101M98 1456.5H101M98 1485.5H101" stroke="#f00" stroke-width="1" fill="none"/>
<path d="M109.5 1498V1503M199.5 1498V1503M290.5 1498V1503M380.5 1498V1503M471.5 1498V1503M561.5 1498V1503M652.5 1498V1503M742.5 1498V1503M833.5 1498V1503M923.5 1498V1503M1014.5 1498V1503M1104.5 1498V1503" stroke="#000" stroke-width="1" fill="none"/>
<path d="M127.5 1501V1503M145.5 1501V1503M163.5 1501V1503M181.5 1501V1503M217.5 1501V1503M235.5 1501V1503M253.5 1501V1503M271.5 1501V1503M308.5 1501V1503M326.5 1501V1503M344.5 1501V1503M362.5 1501V1503M398.5 1501V1503M416.5 1501V1503M434.5 1501V1503M453.5 1501V1503M489.5 1501V1503M507.5 1501V1503M525.5 1501V1503M543.5 1501V1503M579.5 1501V1503M597.5 1501V1503M615.5 1501V1503M634.5 1501V1503M670.5 1501V1503M688.5 1501V1503M706.5 1501V1503M724.5 1501V1503M760.5 1501V1503M778.5 1501V1503M796.5 1501V1503M815.5 1501V1503M851.5 1501V1503M869.5 1501V1503M887.5 1501V1503M905.5 1501V1503M941.5 1501V1503M959.5 1501V1503M978.5 1501V1503M996.5 1501V1503M1032.5 1501V1503M1050.5 1501V1503M1068.5 1501V1503M1086.5 1501V1503M1122.5 1501V1503M1140.5 1501V1503" stroke="#d0d0d0" stroke-width="1" fill="none"/>
<text x="99" y="1330" font-size="11.2" text-anchor="end" textLength="24.9" lengthAdjust="spacingAndGlyphs">0.06</text>
<text x="99" y="1359" font-size="11.2" text-anchor="end" textLength="24.9" lengthAdjust="spacingAndGlyphs">0.04</text>
<text x="99" y="1388" font-size="11.2" text-anchor="end" textLength="24.9" lengthAdjust="spacingAndGlyphs">0.02</text>
<text x="99" y="1417" font-size="11.2" text-anchor="end" textLength="24.9" lengthAdjust="spacingAndGlyphs">0.00</text>
<text x="99" y="1446" font-size="11.2" text-anchor="end" textLength="29.0" lengthAdjust="spacingAndGlyphs">-0.02</text>
<text x="99" y="1475" font-size="11.2" text-anchor="end" textLength="29.0" lengthAdjust="spacingAndGlyphs">-0.04</text>
<text x="99" y="1505" font-size="11.2" text-anchor="end" textLength="29.0" lengthAdjust="spacingAndGlyphs">-0.06</text>
<text x="110.6" y="1514" font-size="11.2" text-anchor="middle" textLength="36.7" lengthAdjust="spacingAndGlyphs">18 Juil</text>
<text x="201.1" y="1514" font-size="11.2" text-anchor="middle" textLength="36.7" lengthAdjust="spacingAndGlyphs">25 Juil</text>
<text x="291.6" y="1514" font-size="11.2" text-anchor="middle" textLength="50.4" lengthAdjust="spacingAndGlyphs">1er Août</text>
<text x="382.1" y="1514" font-size="11.2" text-anchor="middle" textLength="38.8" lengthAdjust="spacingAndGlyphs">8 Août</text>
<text x="472.6" y="1514" font-size="11.2" text-anchor="middle" textLength="46.0" lengthAdjust="spacingAndGlyphs">15 Août</text>
<text x="563.1" y="1514" font-size="11.2" text-anchor="middle" textLength="46.0" lengthAdjust="spacingAndGlyphs">22 Août</text>
<text x="653.7" y="1514" font-size="11.2" text-anchor="middle" textLength="46.0" lengthAdjust="spacingAndGlyphs">29 Août</text>
<text x="744.2" y="1514" font-size="11.2" text-anchor="middle" textLength="38.5" lengthAdjust="spacingAndGlyphs">5 Sept</text>
<text x="834.7" y="1514" font-size="11.2" text-anchor="middle" textLength="45.7" lengthAdjust="spacingAndGlyphs">12 Sept</text>
<text x="925.2" y="1514" font-size="11.2" text-anchor="middle" textLength="45.7" lengthAdjust="spacingAndGlyphs">19 Sept</text>
<text x="1015.7" y="1514" font-size="11.2" text-anchor="middle" textLength="45.7" lengthAdjust="spacingAndGlyphs">26 Sept</text>
<text x="1106.2" y="1514" font-size="11.2" text-anchor="middle" textLength="32.3" lengthAdjust="spacingAndGlyphs">3 Oct</text>
<text x="626.3" y="1526" font-size="11.2" text-anchor="middle" textLength="252.5" lengthAdjust="spacingAndGlyphs">Date (du 18 Juillet 2016 au 5 Octobre 2016)</text>
<text x="0" y="0" font-size="11.2" text-anchor="middle" textLength="33" lengthAdjust="spacingAndGlyphs" transform="translate(67 1410.4) rotate(-90)">MACD</text>
</svg>
</body></html>
